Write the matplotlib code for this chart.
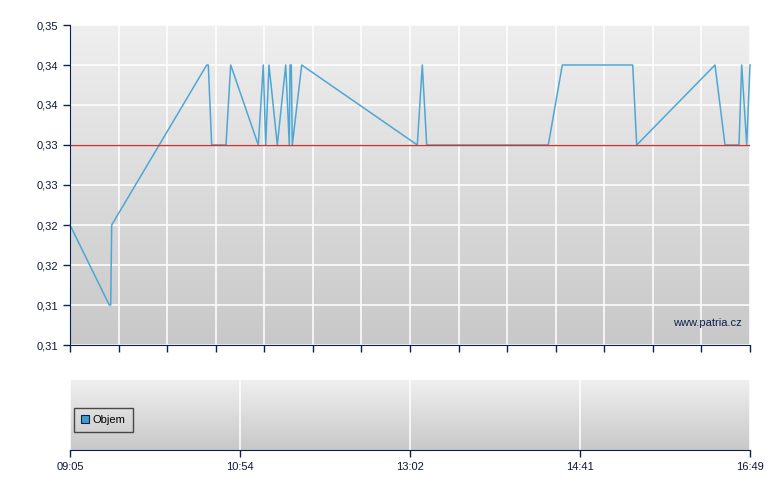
import numpy as np
import matplotlib
matplotlib.use("Agg")
import matplotlib.pyplot as plt
from matplotlib.colors import LinearSegmentedColormap
from matplotlib.patches import Patch

# ---- data ----
# session position (0 = 09:05 open, 680 = 16:49 close, axis is not time-linear)
pos = [0, 39.3, 40.7, 41.7, 136.7, 138.3, 141.7, 156, 160.7, 188.3, 193.3,
       195.7, 199, 207.3, 215.7, 219.3, 220, 221.3, 222.3, 231.7, 347.3,
       352.3, 356.7, 478.3, 492.3, 562.7, 566.7, 645, 655, 669, 671.7,
       676.7, 680]
price = [0.325, 0.315, 0.315, 0.325, 0.345, 0.345, 0.335, 0.335, 0.345,
         0.335, 0.345, 0.335, 0.345, 0.335, 0.345, 0.335, 0.345, 0.345,
         0.335, 0.345, 0.335, 0.345, 0.335, 0.335, 0.345, 0.345, 0.335,
         0.345, 0.335, 0.335, 0.345, 0.335, 0.345]
prev_close = 0.335

y_ticks = [0.31, 0.315, 0.32, 0.325, 0.33, 0.335, 0.34, 0.345, 0.35]
y_labels = ["0,31", "0,31", "0,32", "0,32", "0,33", "0,33", "0,34", "0,34", "0,35"]
x_label_pos = [0, 170, 340, 510, 680]
x_labels = ["09:05", "10:54", "13:02", "14:41", "16:49"]
x_max = 680
n_main_ticks = 14

navy = "#0b2150"
line_col = "#4ea7d2"
font = ["Liberation Sans", "DejaVu Sans"]
plt.rcParams["font.family"] = font

W, H = 780, 490
fig = plt.figure(figsize=(W / 100, H / 100), dpi=100)
fig.patch.set_facecolor("white")

grad_cmap = LinearSegmentedColormap.from_list("g", ["#c8c8c8", "#efefef"])
grad = np.linspace(0, 1, 256).reshape(-1, 1)


def style_axes(ax):
    ax.imshow(grad, extent=[0, 1, 0, 1], transform=ax.transAxes, aspect="auto",
              cmap=grad_cmap, origin="lower", zorder=0)
    for s in ["top", "right"]:
        ax.spines[s].set_visible(False)
    ax.spines["bottom"].set_color(navy)
    ax.spines["left"].set_color(navy)
    ax.tick_params(colors=navy, labelcolor="#0d1838", labelsize=8,
                   length=5, width=1, direction="out")


# ---- main price axes ----
ax = fig.add_axes([70 / W, 1 - 345 / H, 680 / W, 320 / H])
style_axes(ax)
ax.set_xlim(0, x_max)
ax.set_ylim(y_ticks[0], y_ticks[-1])
ax.set_yticks(y_ticks)
ax.set_yticklabels(y_labels)
ax.set_xticks(np.linspace(0, x_max, n_main_ticks + 1))
ax.set_xticklabels([])
ax.grid(True, color="white", linewidth=1.1)
for gl in ax.get_xgridlines() + ax.get_ygridlines():
    gl.set_zorder(1)
ax.plot(pos, price, color=line_col, linewidth=1.1, zorder=3, clip_on=False)
ax.axhline(prev_close, color="#c8362f", linewidth=1, zorder=4)
ax.text(0.988, 0.07, "www.patria.cz", transform=ax.transAxes, ha="right",
        va="center", fontsize=8, color=navy, zorder=5)
ax.spines["left"].set_zorder(6)
ax.spines["bottom"].set_zorder(6)

# ---- volume axes ----
ax2 = fig.add_axes([70 / W, 1 - 450 / H, 680 / W, 70 / H])
style_axes(ax2)
ax2.spines["left"].set_visible(False)
ax2.set_xlim(0, x_max)
ax2.set_ylim(0, 1)
ax2.set_yticks([])
ax2.set_xticks(x_label_pos)
ax2.set_xticklabels(x_labels)
ax2.grid(True, axis="x", color="white", linewidth=1.1)
for gl in ax2.get_xgridlines():
    gl.set_zorder(1)
leg = ax2.legend(handles=[Patch(facecolor="#3f9ccb", edgecolor=navy, linewidth=0.8,
                                label="Objem")],
                 loc="center left", bbox_to_anchor=(0.006, 0.43), fontsize=8,
                 frameon=True, fancybox=False, handlelength=0.7, handleheight=0.7,
                 handletextpad=0.4, borderpad=0.6, borderaxespad=0)
leg.get_frame().set_facecolor("none")
leg.get_frame().set_edgecolor("#222222")
leg.get_frame().set_linewidth(1)

fig.savefig("out.png", dpi=100)
